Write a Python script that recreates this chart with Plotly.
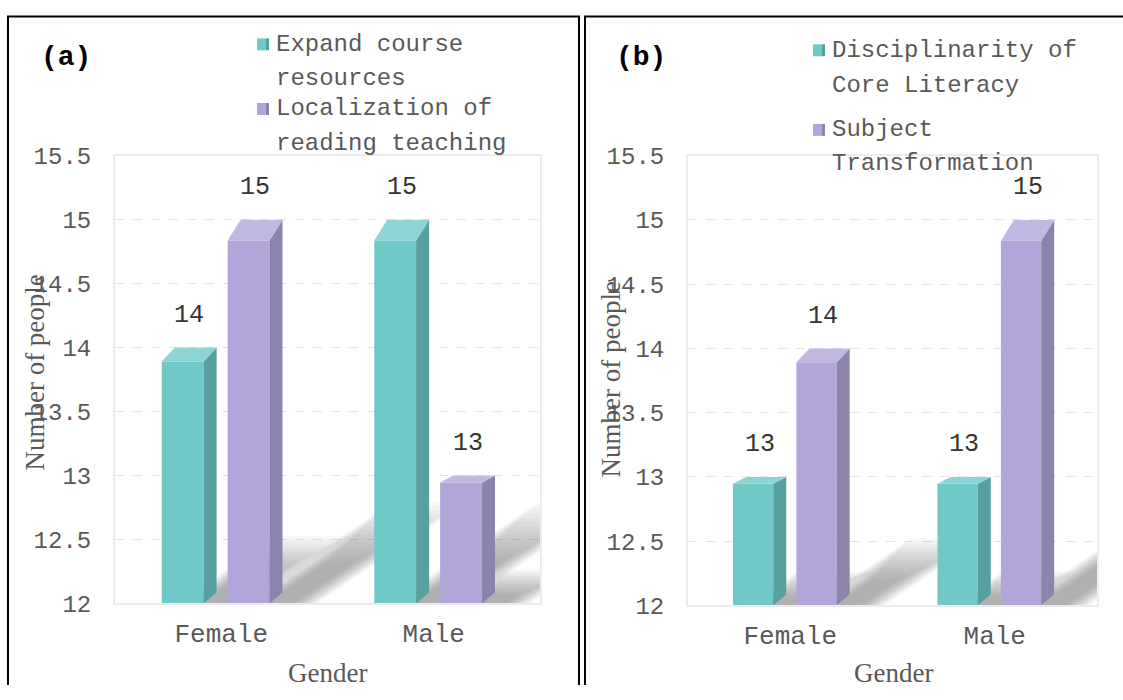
import plotly.graph_objects as go

# ---------------- data ----------------
categories = ["Female", "Male"]

a_series_names = ["Expand course resources", "Localization of reading teaching"]
a_expand = [14, 15]
a_local = [15, 13]
a_legend_lines = [["Expand course", "resources"], ["Localization of", "reading teaching"]]

b_series_names = ["Disciplinarity of Core Literacy", "Subject Transformation"]
b_disc = [13, 13]
b_subj = [14, 15]
b_legend_lines = [["Disciplinarity of", "Core Literacy"], ["Subject", "Transformation"]]

y_tick_vals = [12, 12.5, 13, 13.5, 14, 14.5, 15, 15.5]
y_tick_text = ["12", "12.5", "13", "13.5", "14", "14.5", "15", "15.5"]
y_title = "Number of people"
x_title = "Gender"
panel_labels = ["(a)", "(b)"]

# ---------------- styles ----------------
W, H = 1123, 700
MONO = "Liberation Mono, Courier New, monospace"
SERIF = "Liberation Serif, Times New Roman, serif"
GRAY = "#595959"
FRONT = ["#71c9c7", "#b1a5d9"]
SIDE = ["#57a09e", "#8d84ae"]
TOP = ["#8ed4d2", "#c1b8e2"]
YMIN, YMAX = 12, 15.5

# vertical calibration of the capture (observed = VOFF + VSC * layout px)
VOFF, VSC = 8.5, 0.9665


def Y(y_target):
    return (y_target - VOFF) / VSC


def V(len_px):
    return len_px / VSC


panels = [
    dict(xa="x", ya="y", xd=(115, 540), yd=(153, 603),
         series=[a_expand, a_local], legend=a_legend_lines, names=a_series_names,
         label=panel_labels[0], label_pos=(39, 54),
         ytitle_pos=(35, 371), xtitle_pos=(327, 673),
         leg_x=257, leg_text_x=274, leg_rows=[41, 75, 106, 141], leg_marks=[41, 106]),
    dict(xa="x2", ya="y2", xd=(688, 1097), yd=(153, 605),
         series=[b_disc, b_subj], legend=b_legend_lines, names=b_series_names,
         label=panel_labels[1], label_pos=(614, 54),
         ytitle_pos=(611, 378), xtitle_pos=(893, 673),
         leg_x=813, leg_text_x=830, leg_rows=[47, 82, 127, 161], leg_marks=[47, 127]),
]

OFFS = [-0.28, 0.03]   # bar front-left offset relative to category centre (x units)
BW = 0.197             # front face width (x units)
DX_PX = 13             # depth, horizontal pixels
PERSP_PX = 7           # front-top drop per unit of height (pixels)
LIFT_PX = 11           # back bottom lift (pixels)
SH_SLOPE = 0.68        # shadow direction (px up per px right)

fig = go.Figure()
annotations = []
shapes = []


def px(x):
    return x / W


def py(y):
    return 1 - Y(y) / H


def poly(xs, ys):
    return "M " + " L ".join(f"{x:.5f},{y:.5f}" for x, y in zip(xs, ys)) + " Z"


for p in panels:
    kx = (p["xd"][1] - p["xd"][0]) / 2.0            # px per x unit (range -0.5..1.5)
    ky = (p["yd"][1] - p["yd"][0]) / (YMAX - YMIN)  # observed px per y unit
    dx = DX_PX / kx
    xa, ya = p["xa"], p["ya"]

    # ---- soft shadows: shapes between gridlines and traces ----
    for s, vals in enumerate(p["series"]):
        for i, v in enumerate(vals):
            xl = i + OFFS[s] + 4 / kx
            xr = i + OFFS[s] + BW + dx
            Lpx = 42 * (v - YMIN) + 20
            for k in range(16):
                e_px = 12 - 1.6 * k
                f = 1.18 - 0.04 * k
                e = e_px / kx
                sx = Lpx * f / kx
                sy = SH_SLOPE * Lpx * f / ky
                y0 = YMIN - 0.12
                xs = [xl - e, xr + e, xr + e + sx, xl - e + sx]
                ys = [y0, y0, y0 + sy, y0 + sy]
                shapes.append(dict(type="path", xref=xa, yref=ya, path=poly(xs, ys),
                                   fillcolor="rgba(110,110,110,0.04)", line=dict(width=0),
                                   layer="between"))

    # ---- bars ----
    for s, vals in enumerate(p["series"]):
        fronts = [v - (v - YMIN) * PERSP_PX / ky for v in vals]
        fig.add_trace(go.Bar(x=list(range(len(categories))), y=[f - YMIN for f in fronts],
                             base=YMIN, width=BW, offset=OFFS[s], xaxis=xa, yaxis=ya,
                             marker=dict(color=FRONT[s], line=dict(width=0)),
                             name=p["names"][s], showlegend=False, hoverinfo="skip"))
        for i, v in enumerate(vals):
            xl = i + OFFS[s]
            xr = xl + BW
            ft = fronts[i]
            lift = LIFT_PX / ky
            # side face
            fig.add_trace(go.Scatter(x=[xr, xr, xr + dx, xr + dx, xr],
                                     y=[YMIN, ft, v, YMIN + lift, YMIN],
                                     xaxis=xa, yaxis=ya, mode="lines", line=dict(width=0),
                                     fill="toself", fillcolor=SIDE[s],
                                     hoverinfo="skip", showlegend=False))
            # top face
            fig.add_trace(go.Scatter(x=[xl, xr, xr + dx, xl + dx, xl],
                                     y=[ft, ft, v, v, ft],
                                     xaxis=xa, yaxis=ya, mode="lines", line=dict(width=0),
                                     fill="toself", fillcolor=TOP[s],
                                     hoverinfo="skip", showlegend=False))
            # value label
            annotations.append(dict(x=xl + (BW + dx) / 2, y=v, xref=xa, yref=ya,
                                    text=str(v), showarrow=False, yshift=V(31),
                                    font=dict(family=MONO, size=25, color="#333333")))

    # ---- panel label ----
    annotations.append(dict(x=px(p["label_pos"][0]), y=py(p["label_pos"][1]), xref="paper",
                            yref="paper", xanchor="left", yanchor="middle",
                            text="<b>" + p["label"] + "</b>", showarrow=False,
                            font=dict(family=MONO, size=28, color="#000000")))
    # ---- axis titles ----
    annotations.append(dict(x=px(p["ytitle_pos"][0]), y=py(p["ytitle_pos"][1]), xref="paper",
                            yref="paper", text=y_title, textangle=-90, showarrow=False,
                            xanchor="center", yanchor="middle",
                            font=dict(family=SERIF, size=27, color=GRAY)))
    annotations.append(dict(x=px(p["xtitle_pos"][0]), y=py(p["xtitle_pos"][1]), xref="paper",
                            yref="paper", text=x_title, showarrow=False,
                            xanchor="center", yanchor="middle",
                            font=dict(family=SERIF, size=27, color=GRAY)))
    # ---- legend ----
    rows = [line for lines in p["legend"] for line in lines]
    for r, line in enumerate(rows):
        annotations.append(dict(x=px(p["leg_text_x"]), y=py(p["leg_rows"][r]), xref="paper",
                                yref="paper", xanchor="left", yanchor="middle", text=line,
                                showarrow=False, font=dict(family=MONO, size=24, color=GRAY)))
    for s, ym in enumerate(p["leg_marks"]):
        x0 = p["leg_x"]
        shapes.append(dict(type="rect", xref="paper", yref="paper",
                           x0=px(x0), x1=px(x0 + 9), y0=py(ym + 6), y1=py(ym - 6),
                           fillcolor=FRONT[s], line=dict(width=0)))
        shapes.append(dict(type="rect", xref="paper", yref="paper",
                           x0=px(x0 + 9), x1=px(x0 + 12), y0=py(ym + 6), y1=py(ym - 6),
                           fillcolor=SIDE[s], line=dict(width=0)))

# ---- panel borders (kept inside the canvas) ----
def border_path(points):
    return "M " + " L ".join(f"{px(x):.5f},{max(0.0, py(y)):.5f}" for x, y in points)

shapes.append(dict(type="path", xref="paper", yref="paper",
                   path=border_path([(8, 720), (8, 13), (579, 13), (579, 720)]),
                   line=dict(color="#000000", width=2), layer="above"))
shapes.append(dict(type="path", xref="paper", yref="paper",
                   path=border_path([(585, 720), (585, 13), (1123, 13)]),
                   line=dict(color="#000000", width=2), layer="above"))

axis_common_y = dict(range=[YMIN, YMAX], tickvals=y_tick_vals, ticktext=y_tick_text,
                     showgrid=True, gridcolor="#e3e3e3", griddash="dash", gridwidth=1,
                     showline=True, mirror=True, linecolor="#ececec", linewidth=2,
                     zeroline=False, ticks="", ticklabelstandoff=17,
                     tickfont=dict(family=MONO, size=24, color=GRAY), fixedrange=True)
axis_common_x = dict(range=[-0.5, 1.5], tickvals=[0, 1], ticktext=categories,
                     showgrid=False, showline=True, mirror=True, linecolor="#ececec",
                     linewidth=2, zeroline=False, ticks="", ticklabelstandoff=5,
                     tickfont=dict(family=MONO, size=26, color=GRAY), fixedrange=True)

layout = dict(width=W, height=H, autosize=False, margin=dict(l=0, r=0, t=0, b=0),
              paper_bgcolor="white", plot_bgcolor="white", barmode="overlay",
              showlegend=False, annotations=annotations, shapes=shapes)
for p in panels:
    xk = "xaxis" if p["xa"] == "x" else "xaxis2"
    yk = "yaxis" if p["ya"] == "y" else "yaxis2"
    layout[xk] = dict(axis_common_x, domain=[px(p["xd"][0]), px(p["xd"][1])], anchor=p["ya"])
    layout[yk] = dict(axis_common_y, domain=[py(p["yd"][1]), py(p["yd"][0])], anchor=p["xa"])

fig.update_layout(**layout)

post = (
    "var h=document.documentElement, b=document.body, d=document.getElementById('{plot_id}');"
    "[h,b].forEach(function(e){e.style.margin='0';e.style.padding='0';"
    "e.style.overflow='hidden';e.style.width='1123px';e.style.height='700px';});"
    "d.style.position='absolute';d.style.left='0px';d.style.top='0px';"
)
fig.write_html("out.html", config={"displayModeBar": False}, post_script=post)
